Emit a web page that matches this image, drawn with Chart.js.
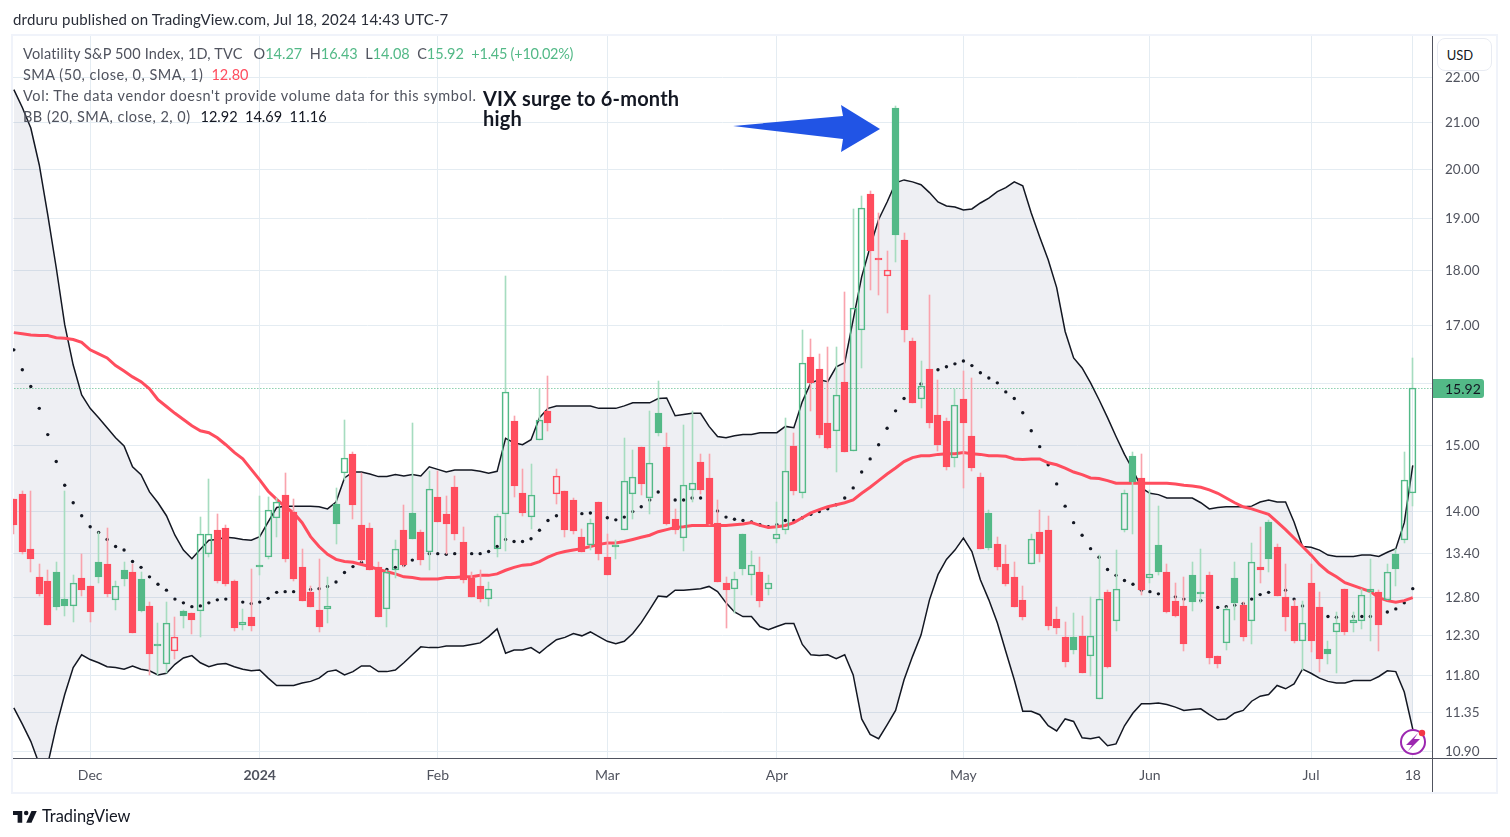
<!DOCTYPE html>
<html>
<head>
<meta charset="utf-8">
<title>VIX daily</title>
<script src="https://cdn.jsdelivr.net/npm/chart.js@4/dist/chart.umd.js"></script>
<style>
  body { margin: 0; background: #fff; font-family: Lato, "Noto Sans", sans-serif; color: #50535e; }
  canvas { position: absolute; left: 0; top: 0; }
  .abs { position: absolute; white-space: nowrap; }
  .frame { left: 11px; top: 34px; width: 1487px; height: 760px; box-sizing: border-box; border: 2px solid #f0f3fa; }
  .legend { left: 23px; font-size: 14.5px; line-height: 20px; }
  .up { color: #53b987; }
  .dn { color: #ff4d5e; }
  .blk { color: #131722; }
</style>
</head>
<body>
<canvas id="chart" width="1510" height="837"></canvas>

<div class="abs frame"></div>
<div class="abs" style="left:13px;top:758px;width:1484px;height:1px;background:#50535e"></div>
<div class="abs" style="left:1432px;top:36px;width:1px;height:756px;background:#50535e"></div>

<div class="abs" style="left:13px;top:9px;font-size:15px;line-height:20px;letter-spacing:0.16px;color:#2a2e39">drduru published on TradingView.com, Jul 18, 2024 14:43 UTC-7</div>

<div class="abs legend" style="top:44px"><span style="letter-spacing:0.18px">Volatility S&amp;P 500 Index, 1D, TVC</span><span style="margin-left:11px">O</span><span class="up">14.27</span>&nbsp; H<span class="up">16.43</span>&nbsp; L<span class="up">14.08</span>&nbsp; C<span class="up">15.92</span>&nbsp; <span class="up" style="letter-spacing:-0.25px">+1.45 (+10.02%)</span></div>
<div class="abs legend" style="top:65px"><span style="letter-spacing:0.5px">SMA (50, close, 0, SMA, 1)</span><span class="dn" style="margin-left:8px">12.80</span></div>
<div class="abs legend" style="top:86px;letter-spacing:0.6px">Vol: The data vendor doesn't provide volume data for this symbol.</div>
<div class="abs legend" style="top:107px"><span style="letter-spacing:0.48px">BB (20, SMA, close, 2, 0)</span><span class="blk" style="margin-left:10px">12.92&nbsp; 14.69&nbsp; 11.16</span></div>

<div class="abs" style="left:483px;top:88px;font-size:20px;line-height:20px;font-weight:700;letter-spacing:0.2px;color:#131722">VIX surge to 6-month<br>high</div>

<svg class="abs" style="left:0;top:0" width="1510" height="837">
  <polygon points="733,126 843,116 841,105 880,129 841,152 843,139" fill="#2154e5"/>
  <circle cx="1413" cy="742" r="12" fill="#fff" stroke="#9c27b0" stroke-width="2"/>
  <path d="M1418 733 L1406 745 L1412 745 L1408 751 L1420 739 L1414 739 Z" fill="#9c27b0"/>
  <circle cx="1422" cy="733" r="3.2" fill="#f23645"/>
  <g transform="translate(13,807) scale(0.66)" fill="#131722">
    <path d="M14 6H0v6h7v12h7V6z"/>
    <circle cx="20" cy="9" r="3.4"/>
    <path d="M28 6h8l-8 18h-8z"/>
  </g>
</svg>
<div class="abs" style="left:42px;top:806px;font-size:16.4px;line-height:20px;color:#131722">TradingView</div>

<div class="abs" style="left:1437px;top:38px;width:55px;height:33px;box-sizing:border-box;padding-right:9px;background:#fff;border:1px solid #e8ebf2;border-radius:8px;text-align:center;font-size:13px;line-height:32px;color:#131722">USD</div>

<script>
const opens = [
  14.18,14.26,13.46,13.08,13.03,13.14,12.78,12.69,13.07,12.95,13.29,13.26,12.77,13.18,13.14,13.05,12.69,12.20,11.95,12.11,
  12.62,12.60,12.62,13.40,13.73,13.77,13.03,12.44,12.55,13.22,13.35,13.91,14.25,14.00,13.21,12.87,12.64,12.65,14.11,14.57,
  14.86,13.80,13.77,13.21,12.65,13.17,13.74,13.98,13.70,13.42,14.21,13.96,14.36,13.57,13.07,12.95,12.78,13.47,13.96,15.38,
  14.27,13.92,15.08,15.54,14.26,14.30,14.17,13.64,13.52,14.14,13.35,13.50,13.74,14.26,14.98,14.20,15.52,14.98,13.89,13.62,
  14.32,14.75,14.50,13.84,12.99,12.91,13.67,13.11,13.14,12.92,13.61,13.74,14.99,14.27,16.45,16.25,15.35,15.23,16.03,14.91,
  16.92,19.50,18.24,17.90,21.33,18.58,16.73,15.75,16.25,15.49,15.38,14.81,15.75,15.14,14.52,13.98,13.53,13.25,13.08,12.77,
  13.25,13.71,13.74,12.52,12.28,12.28,12.30,12.04,11.52,12.87,12.49,13.74,14.83,14.50,13.07,13.52,13.14,12.76,12.69,13.10,
  12.87,13.10,12.05,12.21,13.07,12.70,12.49,13.22,13.85,13.49,12.81,12.69,12.23,12.99,12.67,12.13,12.35,12.91,12.47,12.49,
  12.87,12.87,12.77,13.39,13.59,14.27
];
const highs = [
  14.18,14.30,14.30,13.25,13.18,13.29,14.30,13.10,13.40,12.95,13.70,13.77,13.03,13.29,13.25,13.14,12.74,12.46,12.74,12.55,
  12.64,12.60,13.92,14.49,13.97,13.80,13.04,12.65,13.19,14.23,14.21,14.20,14.57,14.18,13.46,12.95,13.32,13.08,14.35,15.41,
  14.89,14.57,13.84,13.29,13.18,13.59,14.10,15.36,13.74,14.60,14.60,14.23,14.53,13.78,13.14,13.18,13.01,13.97,17.90,15.47,
  14.63,14.71,15.91,16.13,14.63,14.30,14.20,13.75,13.89,14.14,13.67,13.59,15.11,14.93,14.98,15.54,16.04,15.20,14.04,15.33,
  15.54,14.86,14.86,14.17,13.08,13.15,13.67,13.43,13.35,13.10,14.14,15.44,15.19,16.92,16.75,16.50,16.62,16.62,17.60,19.19,
  19.46,19.56,19.11,18.37,21.37,18.72,16.77,16.38,17.55,16.06,15.43,15.90,16.21,16.09,14.57,14.03,13.64,13.52,13.29,12.96,
  13.67,14.03,13.94,12.67,12.48,12.59,12.56,12.81,13.38,12.90,13.45,14.32,14.89,14.87,14.32,14.08,13.25,12.99,13.08,13.29,
  13.47,13.15,12.05,12.68,13.29,12.74,13.55,13.78,13.88,13.53,13.25,12.77,12.76,13.26,12.88,12.24,12.61,12.91,12.61,12.92,
  13.33,12.90,13.26,13.46,14.89,16.43
];
const lows = [
  13.67,13.40,13.14,12.82,12.44,12.64,12.56,12.48,12.82,12.48,12.99,12.81,12.64,12.95,12.34,12.61,11.81,11.81,11.83,12.01,
  12.40,12.33,12.29,13.35,13.00,12.96,12.36,12.38,12.36,13.10,13.33,13.64,13.29,13.03,12.76,12.67,12.35,12.47,13.53,14.47,
  13.89,13.29,13.17,12.54,12.42,13.07,13.22,13.60,13.24,13.18,13.85,13.39,13.59,12.99,12.81,12.74,12.69,13.35,13.43,14.21,
  13.94,13.75,15.08,15.22,14.11,13.64,13.67,13.42,13.45,13.31,13.10,13.32,13.74,13.89,14.25,13.97,15.14,13.81,13.67,13.43,
  14.14,14.26,13.80,13.01,12.40,12.59,13.11,12.84,12.67,12.84,13.55,13.68,14.25,14.20,15.54,15.11,14.95,14.59,14.90,14.91,
  16.26,17.64,17.55,17.21,18.16,16.70,15.68,15.59,15.28,14.91,14.62,14.67,14.35,14.60,13.47,13.45,13.17,12.95,12.67,12.51,
  13.25,13.28,12.38,12.33,11.91,12.07,11.83,11.79,11.52,11.90,12.36,13.70,13.67,12.84,13.00,13.11,12.60,12.55,12.11,12.62,
  12.73,11.95,11.89,12.12,12.51,12.24,12.19,12.99,13.15,12.82,12.36,12.21,11.87,12.10,11.85,11.95,11.83,12.31,12.35,12.39,
  12.24,12.11,12.77,12.95,13.55,14.08
];
const closes = [
  13.80,13.42,13.33,12.85,12.44,12.67,12.69,12.99,12.90,12.61,13.08,12.85,12.96,13.05,12.34,12.62,12.07,12.17,12.47,12.28,
  12.56,12.51,13.67,13.68,13.03,12.98,12.40,12.48,12.43,13.21,14.03,14.14,13.33,13.05,12.76,12.67,12.42,12.69,13.82,14.81,
  14.10,13.31,13.17,12.54,13.14,13.47,13.24,13.60,13.31,14.33,13.85,13.82,13.67,13.04,12.81,12.78,12.92,13.94,15.85,14.38,
  13.98,14.25,15.41,15.35,14.53,13.73,13.72,13.42,13.84,13.39,13.11,13.49,14.46,14.52,14.41,14.73,15.20,13.82,13.73,14.39,
  14.42,14.32,13.82,13.01,12.90,13.05,13.19,13.24,12.76,13.00,13.67,14.60,14.30,16.35,16.01,15.17,14.96,15.81,14.90,17.30,
  19.21,18.37,18.20,18.01,18.68,16.92,15.68,15.95,15.36,15.01,14.67,15.65,15.36,14.65,13.47,13.48,13.21,12.98,12.67,12.55,
  13.60,13.40,12.43,12.40,11.97,12.12,11.83,12.30,12.78,11.91,12.91,14.27,14.44,12.90,13.12,13.14,12.61,12.56,12.20,12.74,
  12.85,12.02,11.94,12.65,12.73,12.28,13.28,13.18,13.33,12.82,12.54,12.24,12.46,12.23,12.01,12.07,12.47,12.35,12.51,12.84,
  12.91,12.44,13.14,13.19,14.47,15.92
];
const sma50 = [
  16.87,16.85,16.83,16.82,16.82,16.78,16.77,16.75,16.70,16.57,16.50,16.43,16.30,16.21,16.11,16.03,15.91,15.73,15.62,15.51,
  15.41,15.31,15.23,15.20,15.12,15.01,14.89,14.79,14.63,14.47,14.30,14.18,14.07,13.98,13.84,13.64,13.50,13.39,13.32,13.29,
  13.28,13.25,13.22,13.18,13.15,13.12,13.08,13.07,13.05,13.05,13.05,13.07,13.07,13.08,13.08,13.10,13.10,13.12,13.17,13.21,
  13.24,13.25,13.29,13.35,13.40,13.43,13.45,13.47,13.50,13.53,13.55,13.55,13.57,13.60,13.63,13.66,13.71,13.74,13.77,13.78,
  13.80,13.80,13.80,13.80,13.80,13.81,13.82,13.84,13.80,13.77,13.78,13.80,13.84,13.91,13.98,14.03,14.07,14.10,14.13,14.17,
  14.27,14.36,14.46,14.56,14.65,14.75,14.81,14.84,14.84,14.86,14.87,14.87,14.89,14.87,14.86,14.84,14.84,14.83,14.79,14.78,
  14.79,14.79,14.73,14.70,14.65,14.59,14.55,14.50,14.49,14.46,14.42,14.42,14.42,14.42,14.42,14.42,14.42,14.41,14.39,14.38,
  14.36,14.32,14.27,14.20,14.13,14.07,14.04,14.00,13.96,13.85,13.74,13.62,13.50,13.38,13.25,13.15,13.08,13.00,12.96,12.92,
  12.88,12.80,12.76,12.74,12.76,12.80
];
const bbMid = [
  16.57,16.23,15.95,15.59,15.17,14.75,14.39,14.13,13.94,13.78,13.70,13.60,13.50,13.45,13.29,13.21,13.08,12.98,12.90,12.78,
  12.73,12.68,12.69,12.73,12.77,12.78,12.77,12.74,12.72,12.74,12.79,12.87,12.88,12.88,12.88,12.91,12.92,12.95,13.01,13.14,
  13.22,13.28,13.22,13.19,13.18,13.21,13.24,13.31,13.36,13.40,13.40,13.39,13.40,13.40,13.40,13.40,13.43,13.50,13.60,13.57,
  13.57,13.61,13.73,13.87,13.94,13.96,13.97,13.97,13.98,13.94,13.91,13.88,13.92,14.00,14.07,14.17,14.29,14.21,14.17,14.17,
  14.20,14.20,14.10,14.01,13.92,13.89,13.87,13.85,13.81,13.78,13.81,13.87,13.87,13.91,13.96,14.00,14.04,14.10,14.20,14.35,
  14.59,14.79,15.01,15.27,15.55,15.75,15.85,15.99,16.14,16.23,16.28,16.33,16.38,16.30,16.18,16.09,16.01,15.86,15.75,15.52,
  15.23,14.98,14.70,14.41,14.08,13.84,13.66,13.47,13.35,13.18,13.10,13.03,12.98,12.90,12.88,12.85,12.82,12.81,12.78,12.77,
  12.76,12.73,12.67,12.68,12.70,12.72,12.78,12.84,12.87,12.88,12.90,12.78,12.69,12.61,12.55,12.55,12.54,12.54,12.55,12.55,
  12.55,12.60,12.61,12.65,12.73,12.92
];
const bbUpper = [
  21.73,21.33,20.88,20.09,19.07,18.05,17.01,16.31,15.81,15.59,15.44,15.28,15.12,14.99,14.67,14.55,14.29,14.13,13.94,13.66,
  13.45,13.33,13.46,13.59,13.60,13.63,13.62,13.60,13.59,13.64,13.85,14.06,14.08,14.08,14.08,14.08,14.07,14.04,14.14,14.50,
  14.59,14.59,14.56,14.52,14.52,14.55,14.53,14.55,14.53,14.67,14.63,14.59,14.62,14.62,14.62,14.60,14.57,14.60,15.11,15.04,
  15.01,15.09,15.44,15.59,15.63,15.63,15.63,15.63,15.63,15.59,15.59,15.59,15.63,15.68,15.68,15.68,15.75,15.76,15.47,15.49,
  15.51,15.51,15.30,15.14,15.12,15.15,15.17,15.17,15.20,15.20,15.20,15.30,15.28,15.70,16.01,16.06,16.03,16.28,16.35,17.10,
  17.88,18.45,18.98,19.33,19.72,19.78,19.74,19.68,19.52,19.33,19.25,19.23,19.17,19.19,19.31,19.41,19.54,19.62,19.74,19.66,
  19.11,18.64,18.20,17.68,16.89,16.43,16.26,16.01,15.73,15.44,15.14,14.86,14.62,14.35,14.27,14.25,14.20,14.20,14.20,14.20,
  14.13,14.04,14.06,14.07,14.07,14.07,14.08,14.14,14.17,14.14,14.14,13.85,13.50,13.49,13.45,13.38,13.36,13.36,13.36,13.38,
  13.38,13.36,13.42,13.47,13.84,14.69
];
const bbLower = [
  11.41,11.22,11.02,10.76,10.76,11.19,11.57,11.90,12.06,12.00,11.96,11.91,11.90,11.88,11.92,11.88,11.86,11.81,11.83,11.94,
  12.02,12.05,11.96,11.91,11.94,11.95,11.91,11.88,11.86,11.87,11.77,11.68,11.68,11.68,11.71,11.73,11.77,11.85,11.87,11.81,
  11.85,11.92,11.92,11.85,11.85,11.87,11.96,12.06,12.16,12.15,12.15,12.17,12.17,12.17,12.19,12.21,12.29,12.39,12.08,12.12,
  12.12,12.15,12.08,12.17,12.25,12.28,12.33,12.30,12.35,12.29,12.23,12.20,12.23,12.33,12.47,12.64,12.82,12.81,12.90,12.90,
  12.91,12.92,12.95,12.88,12.73,12.61,12.55,12.55,12.42,12.38,12.42,12.46,12.46,12.19,12.06,12.05,12.06,12.01,12.06,11.81,
  11.28,11.10,11.05,11.21,11.38,11.75,12.04,12.31,12.77,13.11,13.32,13.45,13.62,13.43,13.04,12.77,12.47,12.10,11.75,11.37,
  11.37,11.33,11.20,11.14,11.28,11.25,11.06,11.05,11.07,10.97,10.99,11.20,11.35,11.46,11.46,11.47,11.45,11.42,11.38,11.39,
  11.40,11.33,11.27,11.28,11.35,11.38,11.49,11.55,11.57,11.68,11.64,11.70,11.88,11.83,11.77,11.73,11.71,11.71,11.74,11.74,
  11.74,11.79,11.86,11.85,11.60,11.16
];

const xTickIndex = [9, 29, 50, 70, 90, 112, 134, 153, 165];
const xTickLabels = ['Dec', '2024', 'Feb', 'Mar', 'Apr', 'May', 'Jun', 'Jul', '18'];
const yTicks = [22, 21, 20, 19, 18, 17, 16, 15, 14, 13.4, 12.8, 12.3, 11.8, 11.35, 10.9];

const GREEN = '#53b987', RED = '#ff4d5e';
const GREEN_WICK = '#a6dcc0', RED_WICK = '#f9a3ad';
const lastClose = closes[closes.length - 1];

// tradingview hollow candles: colour follows previous close, hollow when close is above open
const isUp = i => i === 0 ? false : closes[i] >= closes[i - 1];

const bodies = closes.map((c, i) => ({ x: i, y: [opens[i], c] }));
const upperWicks = closes.map((c, i) => ({ x: i, y: [Math.max(opens[i], c), highs[i]] }));
const lowerWicks = closes.map((c, i) => ({ x: i, y: [lows[i], Math.min(opens[i], c)] }));
const toLine = values => values.map((v, i) => ({ x: i, y: v }));

// keep candles and the price line on whole pixels, otherwise the 1px strokes get blurry
const snapBars = {
  id: 'snapBars',
  beforeDatasetsDraw(chart) {
    chart.getSortedVisibleDatasetMetas().forEach(meta => {
      if (meta.type !== 'bar') return;
      meta.data.forEach(el => {
        el.x = Math.round(el.x - 0.5) + 0.5;
        el.y = Math.round(el.y);
        el.base = Math.round(el.base);
      });
    });
    chart.getDatasetMeta(3).data.forEach(pt => { pt.y = Math.round(pt.y) + 0.5; });
  }
};

// last price tag on the axis
const priceTag = {
  id: 'priceTag',
  afterDraw(chart) {
    const ctx = chart.ctx;
    const y = Math.round(chart.scales.y.getPixelForValue(lastClose));
    ctx.save();
    ctx.fillStyle = GREEN;
    ctx.beginPath();
    ctx.roundRect(1433, y - 9, 51, 19, [0, 3, 3, 0]);
    ctx.fill();
    ctx.fillStyle = '#131722';
    ctx.font = '14px Lato';
    ctx.textAlign = 'left';
    ctx.textBaseline = 'middle';
    ctx.fillText(lastClose.toFixed(2), 1445, y + 1);
    ctx.restore();
  }
};

const wickDataset = (data, order) => ({
  type: 'bar',
  data,
  order,
  grouped: false,
  barThickness: 1,
  borderWidth: 0,
  backgroundColor: ctx => isUp(ctx.dataIndex) ? GREEN_WICK : RED_WICK
});

new Chart(document.getElementById('chart'), {
  type: 'bar',
  data: {
    datasets: [
      { type: 'line', data: toLine(bbUpper), order: 6, fill: '+1', backgroundColor: 'rgba(55,67,114,0.085)',
        borderColor: '#131722', borderWidth: 1.5, pointRadius: 0, tension: 0 },
      { type: 'line', data: toLine(bbLower), order: 5,
        borderColor: '#131722', borderWidth: 1.5, pointRadius: 0, tension: 0 },
      { type: 'line', data: toLine(bbMid), order: 4, showLine: false,
        pointRadius: 1.7, pointBorderWidth: 0, pointBackgroundColor: '#131722' },
      { type: 'line', data: [{ x: -1, y: lastClose }, { x: 168, y: lastClose }], order: 3,
        borderColor: GREEN, borderWidth: 1, borderDash: [1, 2], pointRadius: 0 },
      { type: 'line', data: toLine(sma50), order: 2,
        borderColor: RED, borderWidth: 3, pointRadius: 0, tension: 0 },
      wickDataset(upperWicks, 1),
      wickDataset(lowerWicks, 1),
      {
        type: 'bar',
        data: bodies,
        order: 0,
        grouped: false,
        barThickness: 7,
        minBarLength: 2,
        borderSkipped: false,
        borderWidth: 1,
        borderColor: ctx => isUp(ctx.dataIndex) ? GREEN : RED,
        backgroundColor: ctx => {
          const i = ctx.dataIndex;
          if (closes[i] > opens[i]) return 'rgba(0,0,0,0)';
          return isUp(i) ? GREEN : RED;
        }
      }
    ]
  },
  options: {
    responsive: false,
    animation: false,
    events: [],
    layout: { padding: { left: 13, right: 13, top: 36, bottom: 44 } },
    plugins: { legend: { display: false }, tooltip: { enabled: false } },
    scales: {
      x: {
        type: 'linear',
        offset: false,
        min: -0.1,
        max: 167.27,
        grid: { color: '#e4ecf2', drawTicks: false, offset: false },
        border: { display: false },
        afterBuildTicks: axis => { axis.ticks = xTickIndex.map(v => ({ value: v })); },
        afterFit: axis => { axis.height = 35; },
        ticks: {
          autoSkip: false,
          maxRotation: 0,
          padding: 9,
          color: '#50535e',
          font: ctx => ({ family: 'Lato', size: 14, weight: ctx.tick && ctx.tick.value === 29 ? '700' : '400' }),
          callback: v => xTickLabels[xTickIndex.indexOf(v)]
        }
      },
      y: {
        type: 'logarithmic',
        position: 'right',
        bounds: 'data',
        min: 10.83,
        max: 22.98,
        grid: { color: '#e4ecf2', drawTicks: false },
        border: { display: false },
        afterBuildTicks: axis => { axis.ticks = yTicks.map(v => ({ value: v })); },
        afterFit: axis => { axis.width = 65; },
        ticks: {
          autoSkip: false,
          padding: 13,
          color: '#50535e',
          font: { family: 'Lato', size: 13.5 },
          callback: v => v === 16 ? '' : v.toFixed(2)
        }
      }
    }
  },
  plugins: [snapBars, priceTag]
});
</script>
</body>
</html>
